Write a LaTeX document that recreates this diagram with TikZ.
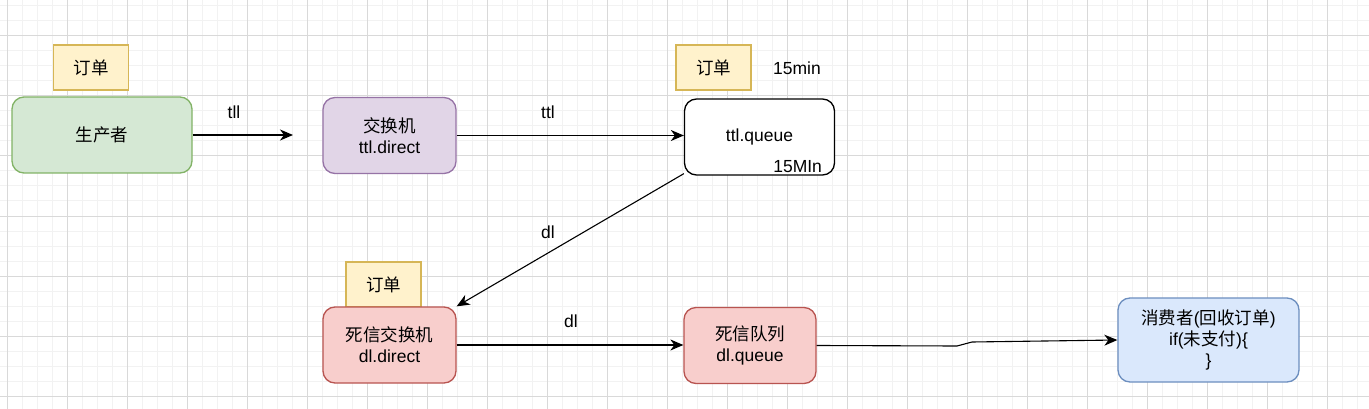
\documentclass[tikz,border=0pt]{standalone}
\usepackage{fontspec}
\setmainfont{Liberation Sans}
\newfontfamily\cjk{Noto Sans CJK SC}
\usetikzlibrary{arrows.meta}
\newcommand{\zh}[1]{{\cjk #1}}
\definecolor{gridminor}{HTML}{F2F2F2}
\definecolor{gridmajor}{HTML}{D9D9D9}
\definecolor{greenfill}{HTML}{D5E8D4}
\definecolor{greenline}{HTML}{82B366}
\definecolor{purplefill}{HTML}{E1D5E7}
\definecolor{purpleline}{HTML}{9673A6}
\definecolor{redfill}{HTML}{F8CECC}
\definecolor{redline}{HTML}{B85450}
\definecolor{bluefill}{HTML}{DAE8FC}
\definecolor{blueline}{HTML}{6C8EBF}
\definecolor{notefill}{HTML}{FFF2CC}
\definecolor{noteline}{HTML}{D6B656}
\begin{document}
\begin{tikzpicture}[x=1pt,y=-1pt,
  font=\fontsize{17.5}{21}\selectfont,
  box/.style={draw,rounded corners=12pt,line width=1.3pt,align=center,
    minimum width=133pt,minimum height=76pt,inner sep=0pt},
  note/.style={draw=noteline,fill=notefill,line width=1.3pt,
    minimum width=75pt,minimum height=45pt,inner sep=0pt},
  flow/.style={line width=1.1pt,-{Stealth[length=13pt,width=11pt,inset=4pt]}}]

  % page and grid
  \useasboundingbox (0,0) rectangle (1369,409);
  \fill[white] (0,0) rectangle (1369,409);
  \foreach \x in {7,22,...,1369} \draw[gridminor,line width=1pt] (\x,0) -- (\x,409);
  \foreach \y in {6,21,...,409} \draw[gridminor,line width=1pt] (0,\y) -- (1369,\y);
  \foreach \x in {7,67,...,1369} \draw[gridmajor,line width=1pt] (\x,0) -- (\x,409);
  \foreach \y in {36,96,...,409} \draw[gridmajor,line width=1pt] (0,\y) -- (1369,\y);

  % top row
  \node[note] (order1) at (91,67.5) {\zh{订单}};
  \node[box,draw=greenline,fill=greenfill,minimum width=180pt] (producer) at (102,135) {\zh{生产者}};
  \coordinate (drop) at (293,135);
  \node[box,draw=purpleline,fill=purplefill] (ttlx) at (389.5,135.5) {\zh{交换机}\\ttl.direct};
  \node[note] (order2) at (713.5,67.5) {\zh{订单}};
  \node (ttlmin) at (797,68) {15min};
  \node[box,fill=white,minimum width=150pt] (ttlq) at (759.5,137) {ttl.queue};
  \node[anchor=south east,inner sep=0pt] (ttlmax) at ([xshift=-13pt,yshift=3pt]ttlq.south east) {15MIn};

  % bottom row
  \node[note] (order3) at (383.5,284.5) {\zh{订单}};
  \node[box,draw=redline,fill=redfill] (dlx) at (389.5,345) {\zh{死信交换机}\\dl.direct};
  \node[box,draw=redline,fill=redfill,minimum width=132pt] (dlq) at (750,345.5) {\zh{死信队列}\\dl.queue};
  \node[box,draw=blueline,fill=bluefill,minimum width=181pt,minimum height=84pt] (consumer) at (1208.5,340)
    {\zh{消费者}(\zh{回收订单})\\if(\zh{未支付})\{\\\}};

  % arrows
  \draw[flow] (producer.east) -- (drop);
  \draw[flow] (ttlx.east) -- (ttlx.east -| ttlq.west);
  \draw[flow] ([yshift=2pt]ttlq.south west) -- (dlx.north east);
  \draw[flow] (dlx.east) -- (dlx.east -| dlq.west);
  \coordinate (kink1) at (957,346);
  \coordinate (kink2) at (972,342);
  \draw[flow] (dlq.east) -- (kink1) -- (kink2) -- (consumer.west);

  % arrow labels
  \node (tll) at (234,112) {tll};
  \node (ttl) at (548,112) {ttl};
  \node (dlup) at (548,232) {dl};
  \node (dldown) at (571,321) {dl};

\end{tikzpicture}
\end{document}
